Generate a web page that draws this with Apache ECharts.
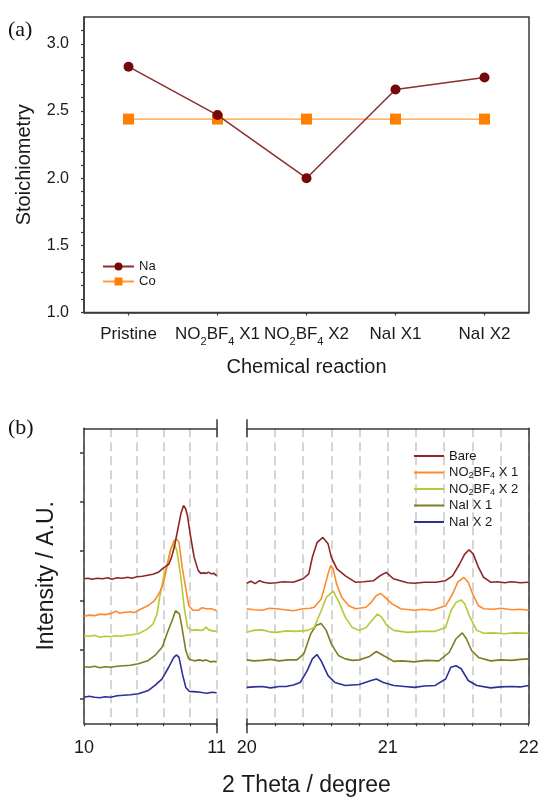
<!DOCTYPE html>
<html><head><meta charset="utf-8">
<script src="https://cdn.jsdelivr.net/npm/echarts@6/dist/echarts.min.js"></script>
<style>html,body{margin:0;padding:0;background:#fff}#c{width:542px;height:797px}</style>
</head><body><div id="c"></div>
<script>
// ---------- Panel (a) data ----------
const reactions = ['Pristine', 'NO2BF4 X1', 'NO2BF4 X2', 'NaI X1', 'NaI X2'];
const naValues = [2.83, 2.47, 2.00, 2.66, 2.75];
const coValues = [2.44, 2.44, 2.44, 2.44, 2.44];
const stoichTicks = [1.0,1.1,1.2,1.3,1.4,1.5,1.6,1.7,1.8,1.9,2.0,2.1,2.2,2.3,2.4,2.5,2.6,2.7,2.8,2.9,3.0,3.1];
const stoichLabels = [1.0, 1.5, 2.0, 2.5, 3.0];

// ---------- Panel (b) data ----------
const xrdNames = ['Bare', 'NO2BF4 X 1', 'NO2BF4 X 2', 'NaI X 1', 'NaI X 2'];
const intensityTicks = [0, 1, 2, 3, 4, 5];

const bareLow = [[10.00,2.44],[10.03,2.45],[10.06,2.43],[10.10,2.45],[10.14,2.44],[10.18,2.46],[10.21,2.43],[10.25,2.46],[10.29,2.45],[10.33,2.47],[10.36,2.45],[10.40,2.48],[10.44,2.49],[10.48,2.51],[10.52,2.53],[10.56,2.57],[10.59,2.64],[10.62,2.70],[10.64,2.74],[10.66,2.88],[10.68,3.08],[10.70,3.35],[10.73,3.76],[10.75,3.93],[10.765,3.87],[10.78,3.72],[10.80,3.35],[10.83,2.88],[10.86,2.61],[10.88,2.55],[10.90,2.56],[10.92,2.55],[10.94,2.57],[10.96,2.54],[10.98,2.55],[11.00,2.50]];
const bareHigh = [[20.00,2.35],[20.03,2.39],[20.06,2.34],[20.09,2.40],[20.12,2.37],[20.16,2.35],[20.21,2.36],[20.26,2.38],[20.33,2.37],[20.40,2.44],[20.44,2.54],[20.466,2.88],[20.50,3.18],[20.54,3.28],[20.577,3.15],[20.60,2.88],[20.64,2.64],[20.70,2.50],[20.77,2.37],[20.83,2.38],[20.90,2.40],[20.945,2.50],[20.99,2.57],[21.04,2.44],[21.09,2.40],[21.14,2.36],[21.19,2.35],[21.26,2.37],[21.34,2.37],[21.41,2.40],[21.46,2.50],[21.51,2.74],[21.546,2.94],[21.578,3.03],[21.607,2.94],[21.644,2.67],[21.68,2.47],[21.73,2.37],[21.78,2.38],[21.83,2.36],[21.88,2.38],[21.94,2.36],[22.00,2.37]];

const no1Low = [[10.00,1.68],[10.04,1.70],[10.08,1.69],[10.12,1.72],[10.16,1.71],[10.20,1.73],[10.24,1.78],[10.27,1.74],[10.31,1.76],[10.35,1.77],[10.38,1.75],[10.41,1.80],[10.45,1.85],[10.48,1.89],[10.53,1.99],[10.57,2.16],[10.60,2.37],[10.625,2.67],[10.65,3.01],[10.68,3.22],[10.70,3.24],[10.716,3.18],[10.74,2.67],[10.77,2.20],[10.79,1.89],[10.82,1.80],[10.86,1.80],[10.89,1.85],[10.92,1.83],[10.96,1.83],[11.00,1.79]];
const no1High = [[20.00,1.83],[20.05,1.81],[20.11,1.80],[20.16,1.84],[20.21,1.83],[20.27,1.81],[20.33,1.79],[20.40,1.83],[20.45,1.84],[20.479,1.86],[20.528,2.03],[20.552,2.27],[20.577,2.54],[20.596,2.71],[20.613,2.64],[20.638,2.33],[20.675,2.06],[20.724,1.89],[20.773,1.83],[20.847,1.86],[20.883,1.96],[20.92,2.10],[20.95,2.14],[20.982,2.06],[21.031,1.93],[21.092,1.83],[21.19,1.80],[21.25,1.82],[21.313,1.80],[21.411,1.89],[21.46,2.13],[21.497,2.37],[21.539,2.47],[21.571,2.37],[21.607,2.10],[21.644,1.89],[21.681,1.83],[21.75,1.82],[21.804,1.84],[21.88,1.81],[21.94,1.82],[22.00,1.80]];

const no2Low = [[10.00,1.28],[10.04,1.27],[10.08,1.29],[10.12,1.25],[10.16,1.27],[10.20,1.26],[10.24,1.28],[10.28,1.27],[10.32,1.29],[10.36,1.30],[10.41,1.32],[10.48,1.42],[10.52,1.52],[10.55,1.72],[10.57,2.06],[10.60,2.47],[10.64,2.88],[10.66,3.08],[10.68,3.15],[10.70,3.01],[10.73,2.47],[10.755,1.86],[10.78,1.45],[10.81,1.39],[10.85,1.40],[10.88,1.39],[10.90,1.40],[10.92,1.46],[10.94,1.40],[10.97,1.38],[11.00,1.37]];
const no2High = [[20.00,1.35],[20.05,1.39],[20.11,1.40],[20.16,1.36],[20.21,1.35],[20.28,1.38],[20.35,1.37],[20.43,1.39],[20.479,1.45],[20.528,1.79],[20.564,2.06],[20.613,2.19],[20.65,1.99],[20.699,1.66],[20.748,1.45],[20.798,1.39],[20.847,1.45],[20.896,1.62],[20.928,1.72],[20.957,1.66],[20.994,1.49],[21.043,1.39],[21.141,1.35],[21.24,1.37],[21.337,1.37],[21.411,1.45],[21.448,1.79],[21.485,1.96],[21.521,2.01],[21.546,1.93],[21.583,1.66],[21.632,1.39],[21.681,1.33],[21.75,1.34],[21.828,1.32],[21.90,1.34],[22.00,1.33]];

const nai1Low = [[10.00,0.65],[10.04,0.64],[10.08,0.66],[10.12,0.63],[10.16,0.65],[10.20,0.64],[10.25,0.66],[10.30,0.67],[10.35,0.68],[10.41,0.71],[10.48,0.77],[10.535,0.88],[10.59,1.05],[10.625,1.32],[10.664,1.59],[10.69,1.79],[10.703,1.83],[10.72,1.72],[10.742,1.39],[10.767,0.98],[10.79,0.81],[10.83,0.77],[10.87,0.79],[10.90,0.77],[10.92,0.79],[10.95,0.75],[10.98,0.76],[11.00,0.74]];
const nai1High = [[20.00,0.79],[20.05,0.77],[20.11,0.78],[20.17,0.80],[20.23,0.77],[20.29,0.79],[20.356,0.79],[20.405,0.91],[20.454,1.32],[20.491,1.49],[20.528,1.53],[20.564,1.39],[20.601,1.11],[20.65,0.88],[20.699,0.81],[20.75,0.78],[20.798,0.79],[20.871,0.86],[20.92,0.96],[20.969,0.88],[21.043,0.76],[21.10,0.77],[21.19,0.75],[21.27,0.78],[21.362,0.77],[21.436,0.94],[21.485,1.22],[21.529,1.34],[21.558,1.22],[21.595,0.98],[21.644,0.84],[21.73,0.77],[21.80,0.79],[21.88,0.78],[21.94,0.80],[22.00,0.81]];

const nai2Low = [[10.00,0.03],[10.04,0.05],[10.08,0.03],[10.12,0.02],[10.16,0.04],[10.20,0.03],[10.25,0.06],[10.30,0.07],[10.35,0.08],[10.41,0.10],[10.48,0.16],[10.535,0.27],[10.587,0.40],[10.638,0.64],[10.677,0.84],[10.698,0.89],[10.716,0.84],[10.742,0.50],[10.767,0.23],[10.793,0.15],[10.85,0.14],[10.90,0.12],[10.93,0.11],[10.96,0.13],[11.00,0.12]];
const nai2High = [[20.00,0.23],[20.05,0.24],[20.11,0.25],[20.17,0.22],[20.23,0.25],[20.28,0.25],[20.331,0.28],[20.38,0.33],[20.429,0.57],[20.466,0.81],[20.498,0.90],[20.528,0.77],[20.577,0.47],[20.626,0.33],[20.699,0.27],[20.798,0.29],[20.883,0.37],[20.92,0.40],[20.969,0.33],[21.043,0.27],[21.12,0.25],[21.19,0.23],[21.26,0.26],[21.337,0.27],[21.411,0.40],[21.448,0.64],[21.485,0.67],[21.521,0.61],[21.571,0.37],[21.632,0.27],[21.73,0.22],[21.80,0.24],[21.877,0.25],[21.94,0.24],[22.00,0.27]];

const xrdLow = [bareLow, no1Low, no2Low, nai1Low, nai2Low];
const xrdHigh = [bareHigh, no1High, no2High, nai1High, nai2High];
const xrdColors = ['#8E2626', '#FF8A2E', '#B7C934', '#7E7C22', '#2C2F96'];

// ---------- helpers ----------
const FONT = '"Liberation Sans", Arial, sans-serif';
const AX = '#3a3a3a';
const TXT = '#1a1a1a';
const sub = s => s.replace('NO2BF4', 'NO{s|2}BF{s|4}');
const dash = { show: true, lineStyle: { color: '#C8C8C8', width: 1.5, type: [9, 5] } };

const chart = echarts.init(document.getElementById('c'), null, { renderer: 'canvas' });

const series = [
  { type: 'line', name: 'Co', xAxisIndex: 0, yAxisIndex: 0, data: coValues,
    symbol: 'rect', symbolSize: 11, lineStyle: { color: '#FF9A3C', width: 1.2 },
    itemStyle: { color: '#FF8000' }, z: 3 },
  { type: 'line', name: 'Na', xAxisIndex: 0, yAxisIndex: 0, data: naValues,
    symbol: 'circle', symbolSize: 10, lineStyle: { color: '#8B2E2E', width: 1.5 },
    itemStyle: { color: '#750808' }, z: 4 }
];
xrdNames.forEach((n, i) => {
  series.push({ type: 'line', name: n, xAxisIndex: 1, yAxisIndex: 1, data: xrdLow[i],
    symbol: 'none', lineStyle: { color: xrdColors[i], width: 1.6 }, itemStyle: { color: xrdColors[i] }, z: 10 - i });
  series.push({ type: 'line', name: n, xAxisIndex: 2, yAxisIndex: 2, data: xrdHigh[i],
    symbol: 'none', lineStyle: { color: xrdColors[i], width: 1.6 }, itemStyle: { color: xrdColors[i] }, z: 10 - i });
});

const off = { show: false };
const lineAx = { show: true, onZero: false, lineStyle: { color: AX, width: 1.5 } };
const noLine = { show: false, onZero: false };

function capAxis(grid, min, max, pos, offset, inside, len, val) {
  return { type: 'value', gridIndex: grid, min: min, max: max, interval: 1, position: pos, offset: offset,
    axisLine: noLine, axisLabel: off, splitLine: off,
    axisTick: { show: true, inside: inside, length: len, customValues: [val], lineStyle: { color: AX, width: 1.5 } } };
}
function bottomAxis(grid, min, max) {
  return { type: 'value', gridIndex: grid, min: min, max: max, interval: 1, position: 'bottom',
    axisLine: lineAx,
    axisTick: { show: true, length: 3, lineStyle: { color: AX, width: 1.2 } },
    minorTick: { show: true, splitNumber: 5, length: 3, lineStyle: { color: AX, width: 1.2 } },
    splitLine: dash, minorSplitLine: dash,
    axisLabel: { fontSize: 18, fontFamily: FONT, color: TXT, margin: 16 } };
}
function topAxis(grid, min, max) {
  return { type: 'value', gridIndex: grid, min: min, max: max, interval: 1, position: 'top',
    axisLine: lineAx, axisTick: off, axisLabel: off, splitLine: off };
}

chart.setOption({
  animation: false,
  backgroundColor: '#fff',
  textStyle: { fontFamily: FONT },
  grid: [
    { left: 84, top: 17, width: 445, height: 295.5, show: true, borderColor: AX, borderWidth: 1.5 },
    { left: 84, top: 428.3, width: 132.7, height: 295 },
    { left: 246.7, top: 428.3, width: 282, height: 295 }
  ],
  legend: [
    { data: ['Na', 'Co'], orient: 'vertical', left: 102, top: 260, padding: 0, itemWidth: 31, itemHeight: 10, itemGap: 2,
      textStyle: { fontSize: 13, lineHeight: 13, color: TXT, fontFamily: FONT } },
    { data: xrdNames, orient: 'vertical', left: 414, top: 448, padding: 0, icon: 'rect', itemWidth: 30, itemHeight: 2, itemGap: 0.5,
      formatter: n => sub(n),
      textStyle: { fontSize: 13, lineHeight: 16, color: TXT, fontFamily: FONT,
        rich: { s: { fontSize: 9, verticalAlign: 'bottom', fontFamily: FONT, color: TXT } } } }
  ],
  xAxis: [
    { type: 'category', gridIndex: 0, data: reactions, boundaryGap: true, position: 'bottom',
      axisLine: lineAx,
      axisTick: { show: true, alignWithLabel: true, length: 3, lineStyle: { color: AX, width: 1.2 } },
      axisLabel: { fontSize: 17, lineHeight: 26, margin: 9, color: TXT, fontFamily: FONT, interval: 0,
        formatter: v => sub(v),
        rich: { s: { fontSize: 11, verticalAlign: 'bottom', fontFamily: FONT, color: TXT } } },
      name: 'Chemical reaction', nameLocation: 'middle', nameGap: 45,
      nameTextStyle: { fontSize: 20, color: TXT, fontFamily: FONT } },
    bottomAxis(1, 10, 11),
    bottomAxis(2, 20, 22),
    topAxis(1, 10, 11),
    topAxis(2, 20, 22),
    capAxis(1, 10, 11, 'top', 9, true, 18, 11),
    capAxis(2, 20, 22, 'top', 9, true, 18, 20),
    capAxis(1, 10, 11, 'bottom', -5, false, 15, 11),
    capAxis(2, 20, 22, 'bottom', -5, false, 15, 20)
  ],
  yAxis: [
    { type: 'value', gridIndex: 0, min: 1, max: 3.2, interval: 0.5,
      axisLine: { show: true, lineStyle: { color: AX, width: 1.5 } },
      axisTick: { show: true, length: 3, customValues: stoichTicks, lineStyle: { color: AX, width: 1.2 } },
      axisLabel: { customValues: stoichLabels, formatter: v => Number(v).toFixed(1), fontSize: 16, margin: 15,
        color: TXT, fontFamily: FONT },
      splitLine: off,
      name: 'Stoichiometry', nameLocation: 'middle', nameGap: 50,
      nameTextStyle: { fontSize: 20, color: TXT, fontFamily: FONT } },
    { type: 'value', gridIndex: 1, min: -0.5, max: 5.5, position: 'left',
      axisLine: lineAx,
      axisTick: { show: true, length: 4, customValues: intensityTicks, lineStyle: { color: AX, width: 1.5 } },
      axisLabel: off, splitLine: off,
      name: 'Intensity / A.U.', nameLocation: 'middle', nameGap: 26,
      nameTextStyle: { fontSize: 23, color: TXT, fontFamily: FONT } },
    { type: 'value', gridIndex: 2, min: -0.5, max: 5.5, position: 'right',
      axisLine: lineAx, axisTick: off, axisLabel: off, splitLine: off }
  ],
  graphic: [
    { type: 'text', x: 8, y: 30, style: { text: '(a)', font: '22px "Liberation Serif", "Times New Roman", serif', fill: '#111', textVerticalAlign: 'middle' } },
    { type: 'text', x: 8, y: 428, style: { text: '(b)', font: '22px "Liberation Serif", "Times New Roman", serif', fill: '#111', textVerticalAlign: 'middle' } },
    { type: 'text', x: 306.5, y: 786, style: { text: '2 Theta / degree', font: '23px "Liberation Sans", Arial, sans-serif', fill: TXT, textAlign: 'center', textVerticalAlign: 'middle' } }
  ],
  series: series
});
</script></body></html>
